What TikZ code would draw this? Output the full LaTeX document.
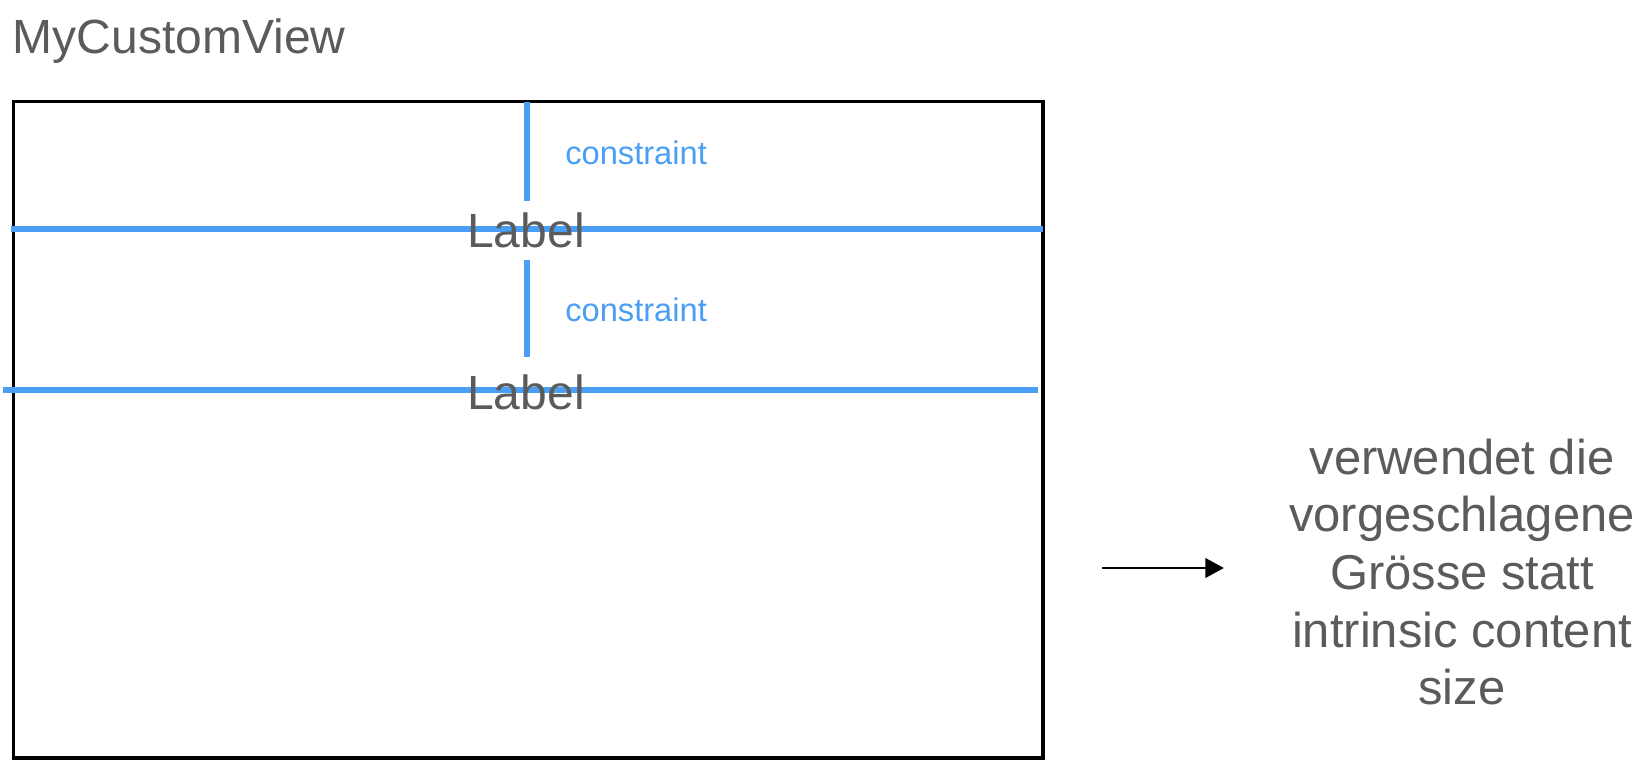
\documentclass[tikz,border=0pt]{standalone}
\usepackage{fontspec}
\setmainfont{Liberation Sans}
\usetikzlibrary{arrows.meta}
\definecolor{txtgray}{HTML}{5B5B5B}
\definecolor{cblue}{HTML}{4A9EF5}
\tikzset{
  x=0.75pt, y=-0.75pt,
  viewbox/.style={draw=black, line width=2.4pt},
  bline/.style={draw=cblue, line width=4.5pt},
  title/.style={font=\fontsize{36}{42}\selectfont, text=txtgray, inner sep=0pt},
  lbl/.style={font=\fontsize{36}{42}\selectfont, text=txtgray, inner sep=0pt},
  ctext/.style={font=\fontsize{24.5}{29}\selectfont, text=cblue, inner sep=0pt},
  note/.style={font=\fontsize{36.7}{43.3}\selectfont, text=txtgray, inner sep=0pt, align=center},
  arr/.style={draw=black, line width=2.2pt, -{Triangle[length=14pt,width=14.5pt]}}
}
\begin{document}
\begin{tikzpicture}
\useasboundingbox (0,0) rectangle (1644,762);
% title
\node[title, anchor=base west] (title) at (12.6,54) {MyCustomView};
% outer view
\coordinate (vtl) at (13.6,101.7);
\coordinate (vbr) at (1043,758);
\draw[viewbox] (vtl) rectangle (vbr);
% blue horizontal lines
\coordinate (h1a) at (10.5,228.6);
\coordinate (h1b) at (1043,228.6);
\coordinate (h2a) at (3,390);
\coordinate (h2b) at (1038,390);
\draw[bline] (h1a) -- (h1b);
\draw[bline] (h2a) -- (h2b);
% vertical constraint lines
\coordinate (v1a) at (527,102);
\coordinate (v1b) at (527,201);
\coordinate (v2a) at (527,260);
\coordinate (v2b) at (527,357.5);
\draw[bline] (v1a) -- (v1b);
\draw[bline] (v2a) -- (v2b);
% labels
\node[lbl, anchor=base] (label1) at (526,247.5) {Label};
\node[lbl, anchor=base] (label2) at (526,410) {Label};
\node[ctext, anchor=base west] (c1) at (565,164.5) {constraint};
\node[ctext, anchor=base west] (c2) at (565,322) {constraint};
% note
\node[note] (note) at (1462,572) {verwendet die\\vorgeschlagene\\Grösse statt\\intrinsic content\\size};
\coordinate (as) at (1102,568);
\coordinate (ae) at (1224,568);
\draw[arr] (as) -- (ae);
\end{tikzpicture}
\end{document}
